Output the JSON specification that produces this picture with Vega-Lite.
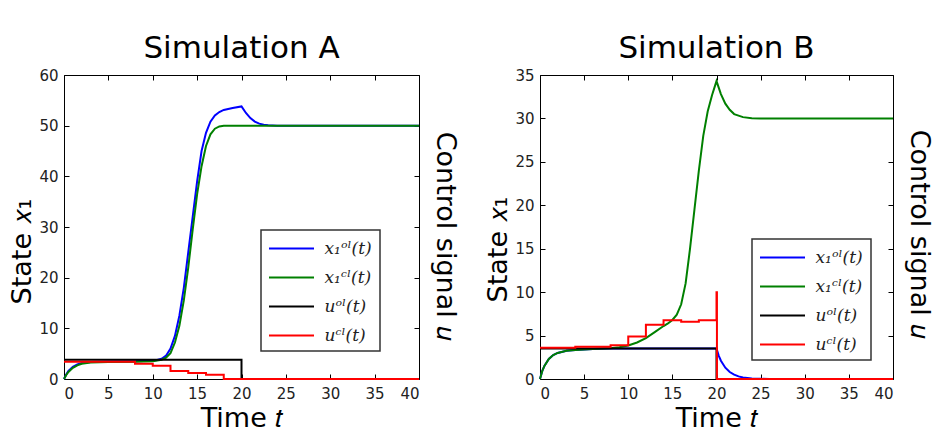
{
  "$schema": "https://vega.github.io/schema/vega-lite/v6.json",
  "background": "white",
  "padding": {"left": 8, "top": 32, "right": 5, "bottom": 2},
  "bounds": "flush",
  "spacing": 121,
  "config": {
    "font": "DejaVu Sans",
    "view": {"stroke": "#000", "strokeWidth": 1},
    "axis": {
      "grid": false,
      "domain": false,
      "tickColor": "#000",
      "tickSize": -5,
      "labelFontSize": 15,
      "labelColor": "#222",
      "labelPadding": 12,
      "titleFontSize": 27,
      "titleFontWeight": "normal",
      "titleColor": "#000",
      "labelFont": "DejaVu Sans",
      "titleFont": "DejaVu Sans"
    },
    "title": {"fontSize": 31, "fontWeight": "normal", "font": "DejaVu Sans", "color": "#000", "anchor": "middle", "offset": 3},
    "legend": {
      "orient": "none",
      "strokeColor": "#333",
      "strokeWidth": 1.5,
      "fillColor": "white",
      "padding": 7.5,
      "cornerRadius": 0,
      "symbolType": "M-2.25,0H2.25",
      "symbolSize": 400,
      "symbolOffset": 12,
      "symbolStrokeWidth": 2,
      "labelFont": "DejaVu Serif",
      "labelFontStyle": "italic",
      "labelFontSize": 17,
      "labelColor": "#222",
      "labelOffset": 22,
      "labelExpr": "datum.label + '\u2003'",
      "rowPadding": 10
    }
  },
  "datasets": {
    "a_state": [
      {"t": 0, "v": 0, "s": "x₁ᵒˡ(t)"}, {"t": 0.25, "v": 0.9, "s": "x₁ᵒˡ(t)"}, {"t": 0.5, "v": 1.6, "s": "x₁ᵒˡ(t)"}, {"t": 1, "v": 2.4, "s": "x₁ᵒˡ(t)"}, {"t": 1.5, "v": 2.9, "s": "x₁ᵒˡ(t)"}, {"t": 2, "v": 3.15, "s": "x₁ᵒˡ(t)"}, {"t": 3, "v": 3.35, "s": "x₁ᵒˡ(t)"}, {"t": 5, "v": 3.45, "s": "x₁ᵒˡ(t)"}, {"t": 8, "v": 3.5, "s": "x₁ᵒˡ(t)"}, {"t": 10, "v": 3.6, "s": "x₁ᵒˡ(t)"}, {"t": 10.5, "v": 3.75, "s": "x₁ᵒˡ(t)"}, {"t": 11, "v": 4.0, "s": "x₁ᵒˡ(t)"}, {"t": 11.5, "v": 4.6, "s": "x₁ᵒˡ(t)"}, {"t": 12, "v": 6, "s": "x₁ᵒˡ(t)"}, {"t": 12.5, "v": 8.5, "s": "x₁ᵒˡ(t)"}, {"t": 13, "v": 12.5, "s": "x₁ᵒˡ(t)"}, {"t": 13.5, "v": 18, "s": "x₁ᵒˡ(t)"}, {"t": 14, "v": 25, "s": "x₁ᵒˡ(t)"}, {"t": 14.5, "v": 32, "s": "x₁ᵒˡ(t)"}, {"t": 15, "v": 39, "s": "x₁ᵒˡ(t)"}, {"t": 15.5, "v": 45, "s": "x₁ᵒˡ(t)"}, {"t": 16, "v": 48.6, "s": "x₁ᵒˡ(t)"}, {"t": 16.5, "v": 50.8, "s": "x₁ᵒˡ(t)"}, {"t": 17, "v": 52, "s": "x₁ᵒˡ(t)"}, {"t": 17.5, "v": 52.7, "s": "x₁ᵒˡ(t)"}, {"t": 18, "v": 53.1, "s": "x₁ᵒˡ(t)"}, {"t": 19, "v": 53.5, "s": "x₁ᵒˡ(t)"}, {"t": 20, "v": 53.8, "s": "x₁ᵒˡ(t)"}, {"t": 20.5, "v": 52.5, "s": "x₁ᵒˡ(t)"}, {"t": 21, "v": 51.5, "s": "x₁ᵒˡ(t)"}, {"t": 21.5, "v": 50.8, "s": "x₁ᵒˡ(t)"}, {"t": 22, "v": 50.4, "s": "x₁ᵒˡ(t)"}, {"t": 22.5, "v": 50.2, "s": "x₁ᵒˡ(t)"}, {"t": 23, "v": 50.1, "s": "x₁ᵒˡ(t)"}, {"t": 24, "v": 50, "s": "x₁ᵒˡ(t)"}, {"t": 40, "v": 50, "s": "x₁ᵒˡ(t)"},
      {"t": 0, "v": 0, "s": "x₁ᶜˡ(t)"}, {"t": 0.25, "v": 0.8, "s": "x₁ᶜˡ(t)"}, {"t": 0.5, "v": 1.4, "s": "x₁ᶜˡ(t)"}, {"t": 1, "v": 2.2, "s": "x₁ᶜˡ(t)"}, {"t": 1.5, "v": 2.7, "s": "x₁ᶜˡ(t)"}, {"t": 2, "v": 3.0, "s": "x₁ᶜˡ(t)"}, {"t": 3, "v": 3.25, "s": "x₁ᶜˡ(t)"}, {"t": 5, "v": 3.35, "s": "x₁ᶜˡ(t)"}, {"t": 8, "v": 3.4, "s": "x₁ᶜˡ(t)"}, {"t": 10, "v": 3.5, "s": "x₁ᶜˡ(t)"}, {"t": 11, "v": 3.8, "s": "x₁ᶜˡ(t)"}, {"t": 11.5, "v": 4.2, "s": "x₁ᶜˡ(t)"}, {"t": 12, "v": 5.1, "s": "x₁ᶜˡ(t)"}, {"t": 12.5, "v": 7.2, "s": "x₁ᶜˡ(t)"}, {"t": 13, "v": 10.5, "s": "x₁ᶜˡ(t)"}, {"t": 13.5, "v": 15.5, "s": "x₁ᶜˡ(t)"}, {"t": 14, "v": 22, "s": "x₁ᶜˡ(t)"}, {"t": 14.5, "v": 29.5, "s": "x₁ᶜˡ(t)"}, {"t": 15, "v": 36.5, "s": "x₁ᶜˡ(t)"}, {"t": 15.5, "v": 42, "s": "x₁ᶜˡ(t)"}, {"t": 16, "v": 46, "s": "x₁ᶜˡ(t)"}, {"t": 16.5, "v": 48.3, "s": "x₁ᶜˡ(t)"}, {"t": 17, "v": 49.4, "s": "x₁ᶜˡ(t)"}, {"t": 17.5, "v": 49.85, "s": "x₁ᶜˡ(t)"}, {"t": 18, "v": 50, "s": "x₁ᶜˡ(t)"}, {"t": 40, "v": 50, "s": "x₁ᶜˡ(t)"}
    ],
    "a_control": [
      {"t": 0, "v": 3.8, "s": "uᵒˡ(t)"}, {"t": 20, "v": 0, "s": "uᵒˡ(t)"}, {"t": 40, "v": 0, "s": "uᵒˡ(t)"},
      {"t": 0, "v": 3.4, "s": "uᶜˡ(t)"}, {"t": 8, "v": 3.0, "s": "uᶜˡ(t)"}, {"t": 10, "v": 2.6, "s": "uᶜˡ(t)"}, {"t": 12, "v": 1.6, "s": "uᶜˡ(t)"}, {"t": 14, "v": 1.2, "s": "uᶜˡ(t)"}, {"t": 16, "v": 0.85, "s": "uᶜˡ(t)"}, {"t": 18, "v": 0, "s": "uᶜˡ(t)"}, {"t": 40, "v": 0, "s": "uᶜˡ(t)"}
    ],
    "b_state": [
      {"t": 0, "v": 0, "s": "x₁ᵒˡ(t)"}, {"t": 0.25, "v": 0.9, "s": "x₁ᵒˡ(t)"}, {"t": 0.5, "v": 1.5, "s": "x₁ᵒˡ(t)"}, {"t": 1, "v": 2.3, "s": "x₁ᵒˡ(t)"}, {"t": 1.5, "v": 2.75, "s": "x₁ᵒˡ(t)"}, {"t": 2, "v": 3.0, "s": "x₁ᵒˡ(t)"}, {"t": 3, "v": 3.25, "s": "x₁ᵒˡ(t)"}, {"t": 4, "v": 3.35, "s": "x₁ᵒˡ(t)"}, {"t": 6, "v": 3.45, "s": "x₁ᵒˡ(t)"}, {"t": 8, "v": 3.5, "s": "x₁ᵒˡ(t)"}, {"t": 20, "v": 3.5, "s": "x₁ᵒˡ(t)"}, {"t": 20.25, "v": 2.7, "s": "x₁ᵒˡ(t)"}, {"t": 20.5, "v": 2.1, "s": "x₁ᵒˡ(t)"}, {"t": 21, "v": 1.3, "s": "x₁ᵒˡ(t)"}, {"t": 21.5, "v": 0.8, "s": "x₁ᵒˡ(t)"}, {"t": 22, "v": 0.5, "s": "x₁ᵒˡ(t)"}, {"t": 22.5, "v": 0.3, "s": "x₁ᵒˡ(t)"}, {"t": 23, "v": 0.18, "s": "x₁ᵒˡ(t)"}, {"t": 24, "v": 0.06, "s": "x₁ᵒˡ(t)"}, {"t": 25, "v": 0.02, "s": "x₁ᵒˡ(t)"}, {"t": 26, "v": 0, "s": "x₁ᵒˡ(t)"}, {"t": 40, "v": 0, "s": "x₁ᵒˡ(t)"},
      {"t": 0, "v": 0, "s": "x₁ᶜˡ(t)"}, {"t": 0.25, "v": 0.9, "s": "x₁ᶜˡ(t)"}, {"t": 0.5, "v": 1.5, "s": "x₁ᶜˡ(t)"}, {"t": 1, "v": 2.3, "s": "x₁ᶜˡ(t)"}, {"t": 1.5, "v": 2.75, "s": "x₁ᶜˡ(t)"}, {"t": 2, "v": 3.0, "s": "x₁ᶜˡ(t)"}, {"t": 3, "v": 3.25, "s": "x₁ᶜˡ(t)"}, {"t": 4, "v": 3.35, "s": "x₁ᶜˡ(t)"}, {"t": 6, "v": 3.45, "s": "x₁ᶜˡ(t)"}, {"t": 8, "v": 3.55, "s": "x₁ᶜˡ(t)"}, {"t": 9, "v": 3.65, "s": "x₁ᶜˡ(t)"}, {"t": 10, "v": 3.85, "s": "x₁ᶜˡ(t)"}, {"t": 11, "v": 4.2, "s": "x₁ᶜˡ(t)"}, {"t": 12, "v": 4.7, "s": "x₁ᶜˡ(t)"}, {"t": 13, "v": 5.4, "s": "x₁ᶜˡ(t)"}, {"t": 14, "v": 6.1, "s": "x₁ᶜˡ(t)"}, {"t": 14.5, "v": 6.4, "s": "x₁ᶜˡ(t)"}, {"t": 15, "v": 6.8, "s": "x₁ᶜˡ(t)"}, {"t": 15.5, "v": 7.4, "s": "x₁ᶜˡ(t)"}, {"t": 16, "v": 8.6, "s": "x₁ᶜˡ(t)"}, {"t": 16.5, "v": 11, "s": "x₁ᶜˡ(t)"}, {"t": 17, "v": 15, "s": "x₁ᶜˡ(t)"}, {"t": 17.5, "v": 19.5, "s": "x₁ᶜˡ(t)"}, {"t": 18, "v": 24, "s": "x₁ᶜˡ(t)"}, {"t": 18.5, "v": 28, "s": "x₁ᶜˡ(t)"}, {"t": 19, "v": 30.8, "s": "x₁ᶜˡ(t)"}, {"t": 19.5, "v": 32.7, "s": "x₁ᶜˡ(t)"}, {"t": 20, "v": 34.3, "s": "x₁ᶜˡ(t)"}, {"t": 20.5, "v": 32.8, "s": "x₁ᶜˡ(t)"}, {"t": 21, "v": 31.7, "s": "x₁ᶜˡ(t)"}, {"t": 21.5, "v": 31.0, "s": "x₁ᶜˡ(t)"}, {"t": 22, "v": 30.5, "s": "x₁ᶜˡ(t)"}, {"t": 23, "v": 30.15, "s": "x₁ᶜˡ(t)"}, {"t": 24, "v": 30.03, "s": "x₁ᶜˡ(t)"}, {"t": 25, "v": 30, "s": "x₁ᶜˡ(t)"}, {"t": 40, "v": 30, "s": "x₁ᶜˡ(t)"}
    ],
    "b_control": [
      {"t": 0, "v": 3.5, "s": "uᵒˡ(t)"}, {"t": 20, "v": 0, "s": "uᵒˡ(t)"}, {"t": 40, "v": 0, "s": "uᵒˡ(t)"},
      {"t": 0, "v": 3.6, "s": "uᶜˡ(t)"}, {"t": 4, "v": 3.7, "s": "uᶜˡ(t)"}, {"t": 8, "v": 3.9, "s": "uᶜˡ(t)"}, {"t": 10, "v": 4.9, "s": "uᶜˡ(t)"}, {"t": 12, "v": 6.25, "s": "uᶜˡ(t)"}, {"t": 14, "v": 6.75, "s": "uᶜˡ(t)"}, {"t": 16, "v": 6.6, "s": "uᶜˡ(t)"}, {"t": 18, "v": 6.75, "s": "uᶜˡ(t)"}, {"t": 20, "v": 10, "s": "uᶜˡ(t)"}, {"t": 20.05, "v": 0, "s": "uᶜˡ(t)"}, {"t": 40, "v": 0, "s": "uᶜˡ(t)"}
    ]
  },
  "resolve": {"scale": {"color": "independent"}, "legend": {"color": "independent"}},
  "hconcat": [
    {
      "title": "Simulation A",
      "width": 355,
      "height": 304,
      "resolve": {"axis": {"x": "independent", "y": "independent"}},
      "layer": [
        {
          "data": {"name": "a_state"},
          "mark": {"type": "line", "strokeWidth": 2},
          "encoding": {
            "x": {"field": "t", "type": "quantitative", "scale": {"domain": [0, 40]}, "axis": {"values": [0, 5, 10, 15, 20, 25, 30, 35, 40], "title": "Time 𝑡", "titlePadding": 4}},
            "y": {"field": "v", "type": "quantitative", "scale": {"domain": [0, 60]}, "axis": {"values": [0, 10, 20, 30, 40, 50, 60], "title": "State 𝑥₁", "labelPadding": 11, "titlePadding": 2, "titleY": 176}},
            "color": {
              "field": "s", "type": "nominal",
              "scale": {"domain": ["x₁ᵒˡ(t)", "x₁ᶜˡ(t)", "uᵒˡ(t)", "uᶜˡ(t)"], "range": ["#0000ff", "#008000", "#000000", "#ff0000"]},
              "legend": {"title": null, "legendX": 197, "legendY": 155}
            }
          }
        },
        {
          "data": {"name": "a_control"},
          "mark": {"type": "line", "strokeWidth": 2, "interpolate": "step-after"},
          "encoding": {
            "x": {"field": "t", "type": "quantitative", "scale": {"domain": [0, 40]}, "axis": {"orient": "top", "values": [0, 5, 10, 15, 20, 25, 30, 35, 40], "labels": false, "title": null}},
            "y": {"field": "v", "type": "quantitative", "scale": {"domain": [0, 60]}, "axis": {"orient": "right", "values": [0, 10, 20, 30, 40, 50, 60], "labels": false, "title": "Control signal 𝑢", "titlePadding": 11, "titleY": 161}},
            "color": {"field": "s", "type": "nominal"}
          }
        }
      ]
    },
    {
      "title": "Simulation B",
      "width": 353,
      "height": 304,
      "resolve": {"axis": {"x": "independent", "y": "independent"}},
      "layer": [
        {
          "data": {"name": "b_state"},
          "mark": {"type": "line", "strokeWidth": 2},
          "encoding": {
            "x": {"field": "t", "type": "quantitative", "scale": {"domain": [0, 40]}, "axis": {"values": [0, 5, 10, 15, 20, 25, 30, 35, 40], "title": "Time 𝑡", "titlePadding": 4}},
            "y": {"field": "v", "type": "quantitative", "scale": {"domain": [0, 35]}, "axis": {"values": [0, 5, 10, 15, 20, 25, 30, 35], "title": "State 𝑥₁", "labelPadding": 11, "titlePadding": 2, "titleY": 174}},
            "color": {
              "field": "s", "type": "nominal",
              "scale": {"domain": ["x₁ᵒˡ(t)", "x₁ᶜˡ(t)", "uᵒˡ(t)", "uᶜˡ(t)"], "range": ["#0000ff", "#008000", "#000000", "#ff0000"]},
              "legend": {"title": null, "legendX": 212, "legendY": 164}
            }
          }
        },
        {
          "data": {"name": "b_control"},
          "mark": {"type": "line", "strokeWidth": 2, "interpolate": "step-after"},
          "encoding": {
            "x": {"field": "t", "type": "quantitative", "scale": {"domain": [0, 40]}, "axis": {"orient": "top", "values": [0, 5, 10, 15, 20, 25, 30, 35, 40], "labels": false, "title": null}},
            "y": {"field": "v", "type": "quantitative", "scale": {"domain": [0, 35]}, "axis": {"orient": "right", "values": [0, 5, 10, 15, 20, 25, 30, 35], "labels": false, "title": "Control signal 𝑢", "titlePadding": 11, "titleY": 159}},
            "color": {"field": "s", "type": "nominal"}
          }
        }
      ]
    }
  ]
}
